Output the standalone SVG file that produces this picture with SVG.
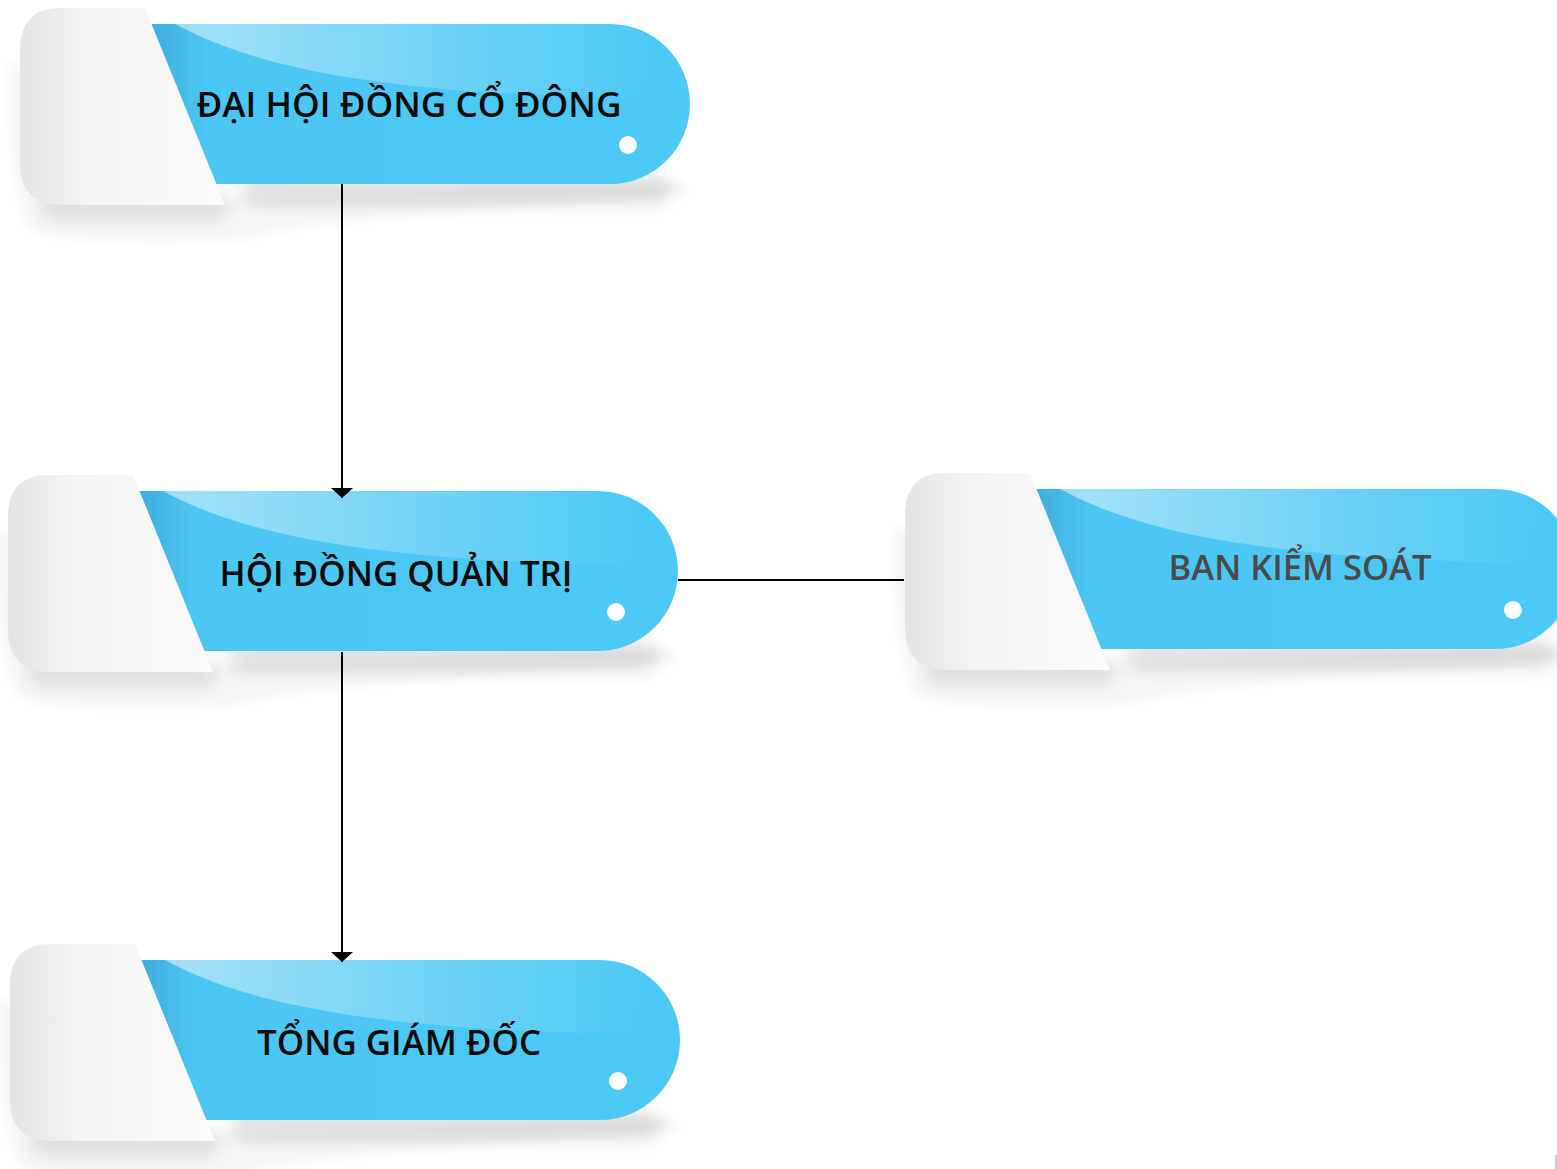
<svg xmlns="http://www.w3.org/2000/svg" width="1557" height="1169" viewBox="0 0 1557 1169">
<style>
.lbl{font-family:"Open Sans","Noto Sans","DejaVu Sans",sans-serif;font-weight:600;font-size:34px;fill:#0a0a0a;text-anchor:middle}
.lbl.gray{fill:#4a4a4a}
.conn{stroke:#000;stroke-width:2;fill:none}
</style>
<defs>
<linearGradient id="blue" x1="0" y1="0" x2="1" y2="0">
<stop offset="0" stop-color="#3ea9d9"/>
<stop offset="0.12" stop-color="#4cc6f2"/>
<stop offset="1" stop-color="#4cc9f5"/>
</linearGradient>
<linearGradient id="hl" x1="0" y1="0" x2="1" y2="0">
<stop offset="0" stop-color="#ffffff" stop-opacity="0.5"/>
<stop offset="0.55" stop-color="#ffffff" stop-opacity="0.2"/>
<stop offset="1" stop-color="#ffffff" stop-opacity="0"/>
</linearGradient>
<linearGradient id="tab" x1="0" y1="0" x2="1" y2="0">
<stop offset="0" stop-color="#e4e4e4"/>
<stop offset="0.3" stop-color="#f3f3f3"/>
<stop offset="1" stop-color="#fbfbfb"/>
</linearGradient>
<filter id="blur" x="-20%" y="-50%" width="140%" height="200%"><feGaussianBlur stdDeviation="9"/></filter>
<filter id="blur2" x="-20%" y="-20%" width="140%" height="140%"><feGaussianBlur stdDeviation="4"/></filter>
<marker id="arr" viewBox="0 0 10 22" refX="10" refY="11" markerWidth="10" markerHeight="22" markerUnits="userSpaceOnUse" orient="auto">
<path d="M0,0 L10,11 L0,22 Z" fill="#000"/>
</marker>
<g id="shape">
<path d="M10,60 Q5,180 30,230 Q60,245 240,240 Q300,220 690,195 L680,180 L200,200 Z" fill="#f6f6f6" filter="url(#blur2)"/>
<rect x="240" y="176" width="430" height="28" rx="14" fill="#000" opacity="0.12" filter="url(#blur)"/>
<rect x="40" y="190" width="190" height="30" rx="14" fill="#000" opacity="0.09" filter="url(#blur)"/>
<path d="M140,24 H610 A80,80 0 0 1 610,184 H200 Z" fill="url(#blue)"/>
<path d="M175,24 C260,70 390,94 640,98 L660,40 Q640,24 610,24 Z" fill="url(#hl)"/>
<path d="M60,8 H145 L225,205 H62 Q20,205 20,163 V50 Q20,8 60,8 Z" fill="url(#tab)"/>
</g>
</defs>

<g id="node-dhdcd">
<use href="#shape"/>
<circle cx="628" cy="145" r="9" fill="#fff"/>
<text class="lbl" x="409" y="117" textLength="425" lengthAdjust="spacingAndGlyphs">ĐẠI HỘI ĐỒNG CỔ ĐÔNG</text>
</g>

<g id="node-hdqt">
<use href="#shape" transform="translate(-12,467)"/>
<circle cx="616" cy="612" r="9" fill="#fff"/>
<text class="lbl" x="396" y="586" textLength="353" lengthAdjust="spacingAndGlyphs">HỘI ĐỒNG QUẢN TRỊ</text>
</g>

<g id="node-tgd">
<use href="#shape" transform="translate(-10,936)"/>
<circle cx="618" cy="1081" r="9" fill="#fff"/>
<text class="lbl" x="399" y="1055" textLength="284" lengthAdjust="spacingAndGlyphs">TỔNG GIÁM ĐỐC</text>
</g>

<g id="node-bks">
<use href="#shape" transform="translate(885,465)"/>
<circle cx="1513" cy="610" r="9" fill="#fff"/>
<text class="lbl gray" x="1300" y="580" textLength="263" lengthAdjust="spacingAndGlyphs">BAN KIỂM SOÁT</text>
</g>

<g id="connectors">
<line class="conn" x1="342" y1="184" x2="342" y2="498" marker-end="url(#arr)"/>
<line class="conn" x1="342" y1="652" x2="342" y2="962" marker-end="url(#arr)"/>
<line class="conn" x1="678" y1="580" x2="904" y2="580"/>
</g>

<line x1="1556" y1="1155" x2="1556" y2="1169" stroke="#999" stroke-width="1"/>
</svg>
